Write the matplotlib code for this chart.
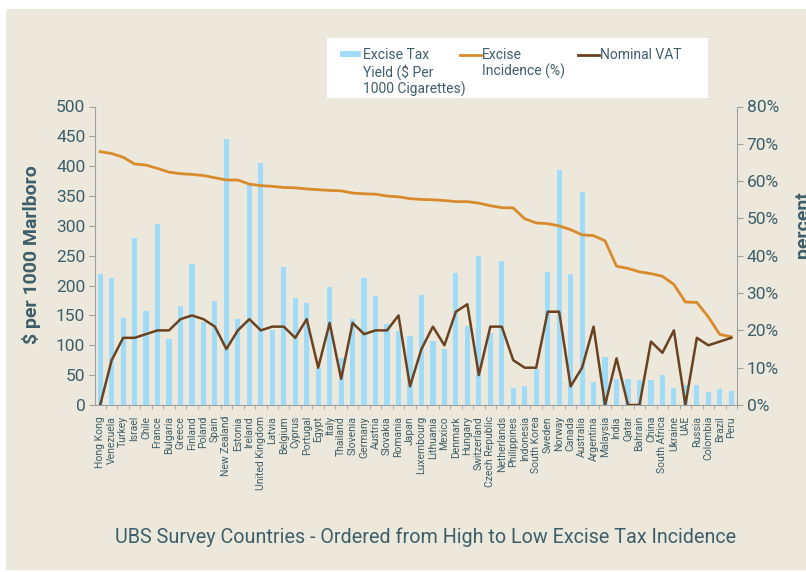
import matplotlib
matplotlib.use('Agg')
import matplotlib.pyplot as plt
from matplotlib.patches import Rectangle
from matplotlib.lines import Line2D
from matplotlib.ticker import FixedLocator

plt.rcParams['font.family'] = ['Liberation Sans Narrow', 'Roboto', 'DejaVu Sans']

countries = ['Hong Kong', 'Venezuela', 'Turkey', 'Israel', 'Chile', 'France', 'Bulgaria',
             'Greece', 'Finland', 'Poland', 'Spain', 'New Zealand', 'Estonia', 'Ireland',
             'United Kingdom', 'Latvia', 'Belgium', 'Cyprus', 'Portugal', 'Egypt', 'Italy',
             'Thailand', 'Slovenia', 'Germany', 'Austria', 'Slovakia', 'Romania', 'Japan',
             'Luxembourg', 'Lithuania', 'Mexico', 'Denmark', 'Hungary', 'Switzerland',
             'Czech Republic', 'Netherlands', 'Philippines', 'Indonesia', 'South Korea',
             'Sweden', 'Norway', 'Canada', 'Australia', 'Argentina', 'Malaysia', 'India',
             'Qatar', 'Bahrain', 'China', 'South Africa', 'Ukraine', 'UAE', 'Russia',
             'Colombia', 'Brazil', 'Peru']

# excise tax yield, $ per 1000 cigarettes
tax_yield = [219, 213, 146, 280, 158, 304, 111, 165, 237, 139, 175, 446, 144, 372,
             405, 125, 231, 179, 171, 62, 197, 79, 144, 212, 182, 136, 124, 115,
             185, 107, 93, 221, 132, 250, 120, 242, 29, 31, 60, 223, 394, 220,
             357, 39, 80, 44, 44, 42, 42, 50, 29, 33, 34, 21, 26, 24]

# excise incidence, %
incidence = [67.9, 67.4, 66.4, 64.6, 64.3, 63.4, 62.4, 62.0, 61.8, 61.5, 60.9, 60.3,
             60.3, 59.2, 58.8, 58.6, 58.3, 58.2, 57.9, 57.7, 57.5, 57.4, 56.8, 56.6,
             56.5, 56.0, 55.8, 55.3, 55.1, 55.0, 54.8, 54.5, 54.5, 54.1, 53.4, 52.9,
             52.8, 49.9, 48.8, 48.6, 48.0, 47.0, 45.6, 45.4, 44.0, 37.2, 36.6, 35.7,
             35.2, 34.5, 32.3, 27.6, 27.5, 23.6, 18.9, 18.3]

# nominal VAT, %
vat = [0, 12, 18, 18, 19, 20, 20, 23, 24, 23, 21, 15, 20, 23, 20, 21, 21, 18, 23,
       10, 22, 7, 22, 19, 20, 20, 24, 5, 15, 21, 16, 25, 27, 8, 21, 21, 12, 10, 10,
       25, 25, 5, 10, 21, 0, 12.5, 0, 0, 17, 14, 20, 0, 18, 16, 17, 18]

bg = '#ece8dc'
txt = '#3e5e6a'
blue = '#a0dcf8'
orange = '#d98a2b'
brown = '#6b4220'
grey = '#a0a0a0'

W, H = 806, 572
fig = plt.figure(figsize=(W / 100, H / 100), dpi=100, facecolor='white')
fig.add_artist(Rectangle((6 / W, 1 - 570 / H), 800 / W, 561 / H,
                         transform=fig.transFigure, facecolor=bg, edgecolor='none', zorder=-10))

ax = fig.add_axes([95 / W, 1 - 405 / H, 642 / W, 298.5 / H])
ax.set_facecolor('none')
x = list(range(len(countries)))
ax.bar(x, tax_yield, width=0.45, color=blue, zorder=1)
ax.set_xlim(-0.45, len(countries) - 0.5)
ax.set_ylim(0, 500)
ax.set_yticks(range(0, 501, 50))

ax2 = ax.twinx()
ax2.plot(x, incidence, color=orange, lw=2.0, zorder=3)
ax2.plot(x, vat, color=brown, lw=1.8, zorder=4)
ax2.set_ylim(0, 80)
ax2.set_yticks(range(0, 81, 10))
ax2.set_yticklabels([f'{v}%' for v in range(0, 81, 10)])

for a in (ax, ax2):
    for s in a.spines.values():
        s.set_visible(False)
ax.spines['left'].set_visible(True)
ax.spines['left'].set_color(grey)
ax.spines['bottom'].set_visible(True)
ax.spines['bottom'].set_color(grey)
ax2.spines['right'].set_visible(True)
ax2.spines['right'].set_color(grey)

ax.set_xticks(x)
ax.set_xticklabels(countries, rotation=90, fontsize=7.5, color=txt)
ax.tick_params(axis='x', length=0, pad=8)
ax.xaxis.set_minor_locator(FixedLocator([i + 0.5 for i in x]))
ax.tick_params(axis='x', which='minor', length=3, color=grey)
ax.tick_params(axis='y', labelsize=12.5, labelcolor=txt, color=grey, length=4, pad=3)
ax2.tick_params(axis='y', labelsize=12.5, labelcolor=txt, color=grey, length=4, pad=3)

fig.text(32 / W, 1 - 255 / H, '$ per 1000 Marlboro', rotation=90, ha='center', va='center',
         fontsize=14, fontweight='bold', color=txt)
fig.text(803 / W, 1 - 225 / H, 'percent', rotation=90, ha='center', va='center',
         fontsize=14, fontweight='bold', color=txt)
fig.text(426 / W, 1 - 537 / H, 'UBS Survey Countries - Ordered from High to Low Excise Tax Incidence',
         ha='center', va='center', fontsize=14.2, color=txt)

# legend
fig.add_artist(Rectangle((327 / W, 1 - 98 / H), 381 / W, 60 / H, transform=fig.transFigure,
                         facecolor='white', edgecolor='none', zorder=5))
fig.add_artist(Rectangle((340 / W, 1 - 56.5 / H), 21 / W, 5 / H, transform=fig.transFigure,
                         facecolor=blue, edgecolor='none', zorder=6))
fig.add_artist(Line2D([460 / W, 481 / W], [1 - 55 / H] * 2, transform=fig.transFigure,
                      color=orange, lw=2, zorder=6))
fig.add_artist(Line2D([578 / W, 599 / W], [1 - 55 / H] * 2, transform=fig.transFigure,
                      color=brown, lw=2, zorder=6))
legend_items = [(363, 'Excise Tax\nYield ($ Per\n1000 Cigarettes)'),
                (482, 'Excise\nIncidence (%)'),
                (600, 'Nominal VAT')]
for lx, label in legend_items:
    fig.text(lx / W, 1 - 48 / H, label, ha='left', va='top', fontsize=10,
             color=txt, linespacing=1.15, zorder=7)

fig.savefig('out.png', dpi=100, facecolor='white')
